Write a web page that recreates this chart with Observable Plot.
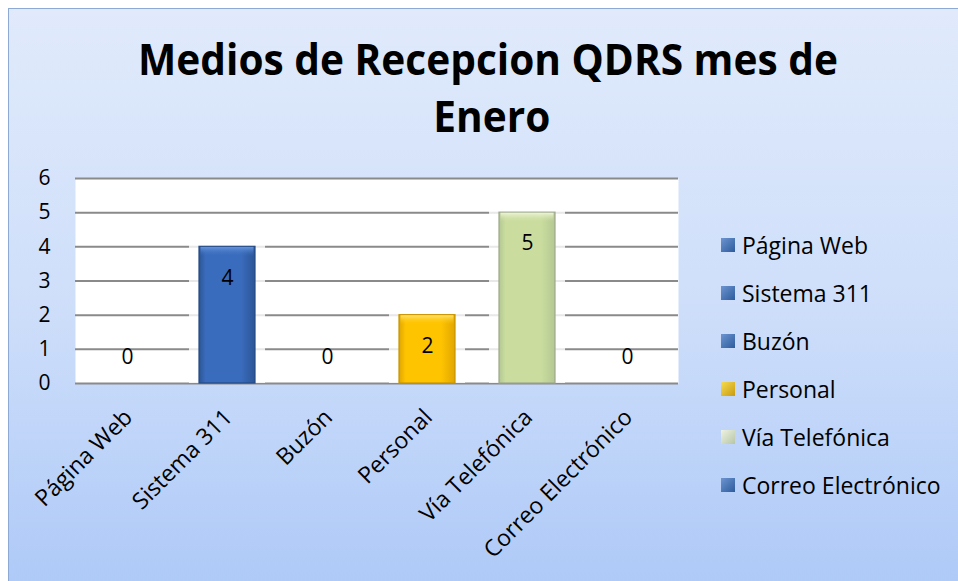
<!DOCTYPE html>
<html><head><meta charset="utf-8">
<script src="https://cdn.jsdelivr.net/npm/d3@7"></script>
<script src="https://cdn.jsdelivr.net/npm/@observablehq/plot@0.6"></script>
<style>
html,body{margin:0;padding:0;background:#fff;}
body{width:958px;height:581px;overflow:hidden;position:relative;font-family:"Open Sans",sans-serif;}
#frame{position:absolute;left:8px;top:8px;width:1000px;height:640px;border:1px solid #8ea9d4;
  background:linear-gradient(to bottom,#e0eafb 0%,#cfdffa 45%,#a7c5f7 100%);}
#chart{position:absolute;left:0;top:0;}
#title{position:absolute;left:0;top:0;}
#legend{position:absolute;left:721px;top:0;}
.row{position:absolute;left:0;height:30px;display:flex;align-items:center;white-space:nowrap;font-size:23px;color:#000;}
.sw{width:14px;height:14px;margin-right:7px;box-sizing:border-box;}
</style></head>
<body>
<div id="frame"></div>
<div id="chart"></div>
<svg id="title" width="958" height="160"></svg>
<div id="legend"></div>
<script>
// ---- data ----
const titleLines = ["Medios de Recepcion QDRS mes de", "Enero"];
const categories = ["Página Web", "Sistema 311", "Buzón", "Personal", "Vía Telefónica", "Correo Electrónico"];
const values = [0, 4, 0, 2, 5, 0];
const yTicks = [0, 1, 2, 3, 4, 5, 6];

// ---- styles ----
const blue = {a:"#2b5595", b:"#3a6cbd", top:"#6594dc", edge:"#244a84", sw:"linear-gradient(135deg,#6d95d0,#2d5b9d)"};
const palette = {
  "Página Web": blue,
  "Sistema 311": blue,
  "Buzón": blue,
  "Personal":          {a:"#e0a600", b:"#ffc400", top:"#ffe26a", edge:"#c99400", sw:"linear-gradient(135deg,#f6dc50,#c99a10)"},
  "Vía Telefónica":    {a:"#b3c792", b:"#cadd9f", top:"#edf4d8", edge:"#9ea78e", sw:"linear-gradient(135deg,#eef2e4,#b6c6a4)"},
  "Correo Electrónico": blue
};

const data = categories.map((c, i) => ({cat: c, value: values[i], key: i}));
const nonzero = data.filter(d => d.value > 0);
const zeros = data.filter(d => d.value === 0);

const plot = Plot.plot({
  width: 958, height: 581,
  marginLeft: 75, marginRight: 280, marginTop: 178, marginBottom: 198,
  style: {background: "transparent", fontFamily: "Open Sans", fontSize: "21px", color: "#000", overflow: "visible"},
  x: {domain: categories, paddingInner: 0.443, paddingOuter: 0.2215, axis: null},
  y: {domain: [0, 6], axis: null, label: null},
  color: {type: "identity"},
  marks: [
    Plot.frame({fill: "white", stroke: "none"}),
    Plot.gridY(yTicks, {stroke: "#8a8a8a", strokeWidth: 2, strokeOpacity: 1}),
    // glow around bars
    Plot.barY(nonzero, {x: "cat", y: "value", fill: "white", fillOpacity: 0.8,
      insetLeft: -10, insetRight: -10, insetTop: -3}),
    Plot.barY(nonzero, {x: "cat", y: "value", fill: d => `url(#bg${d.key})`,
      stroke: d => palette[d.cat].edge, strokeWidth: 1.2}),
    // top bevel
    Plot.barY(nonzero, {x: "cat", y1: "value", y2: "value", fill: d => `url(#tg${d.key})`,
      insetBottom: -10, insetLeft: 1.5, insetRight: 1.5, insetTop: 0.6}),
    Plot.axisY({ticks: yTicks, tickSize: 0, tickPadding: 25, fontSize: 21, label: null, tickFormat: d => String(d)}),
    Plot.text(nonzero, {x: "cat", y: "value", text: d => String(d.value), dy: 31, fontSize: 21, fill: "#000"}),
    Plot.text(zeros, {x: "cat", y: "value", text: d => String(d.value), dy: -26, fontSize: 21, fill: "#000"}),
    Plot.text(data, {x: "cat", y: () => 0, text: "cat", rotate: -45, textAnchor: "end",
      lineAnchor: "middle", dy: 30, dx: 1, fontSize: 23, fill: "#000"})
  ]
});
document.getElementById("chart").appendChild(plot);

// gradients
const svg = d3.select(plot);
const defs = svg.insert("defs", ":first-child");
data.forEach(d => {
  const p = palette[d.cat];
  const g = defs.append("linearGradient").attr("id", `bg${d.key}`).attr("x1", 0).attr("x2", 1).attr("y1", 0).attr("y2", 0);
  g.append("stop").attr("offset", "0%").attr("stop-color", p.a);
  g.append("stop").attr("offset", "12%").attr("stop-color", p.b);
  g.append("stop").attr("offset", "75%").attr("stop-color", p.b);
  g.append("stop").attr("offset", "100%").attr("stop-color", p.a);
  const t = defs.append("linearGradient").attr("id", `tg${d.key}`).attr("x1", 0).attr("x2", 0).attr("y1", 0).attr("y2", 1);
  t.append("stop").attr("offset", "0%").attr("stop-color", p.top).attr("stop-opacity", 1);
  t.append("stop").attr("offset", "100%").attr("stop-color", p.b).attr("stop-opacity", 0);
});

// title
const ts = d3.select("#title");
const tg = ts.append("g");
const cx = 488;
const l1 = tg.append("text").attr("x", cx).attr("y", 75).attr("text-anchor", "middle")
  .attr("font-family", "Open Sans").attr("font-weight", 700).attr("font-size", 43).text(titleLines[0]);
tg.append("text").attr("x", cx + 4).attr("y", 132).attr("text-anchor", "middle")
  .attr("font-family", "Open Sans").attr("font-weight", 700).attr("font-size", 43).text(titleLines[1]);
const w = l1.node().getComputedTextLength();
const sx = 700 / w;
tg.attr("transform", `translate(${cx},0) scale(${sx},1) translate(${-cx},0)`);

// legend
const leg = d3.select("#legend");
categories.forEach((c, i) => {
  const r = leg.append("div").attr("class", "row").style("top", (245 + 48 * i - 15) + "px");
  r.append("div").attr("class", "sw").style("background", palette[c].sw);
  r.append("span").text(c);
});
</script>
</body></html>
